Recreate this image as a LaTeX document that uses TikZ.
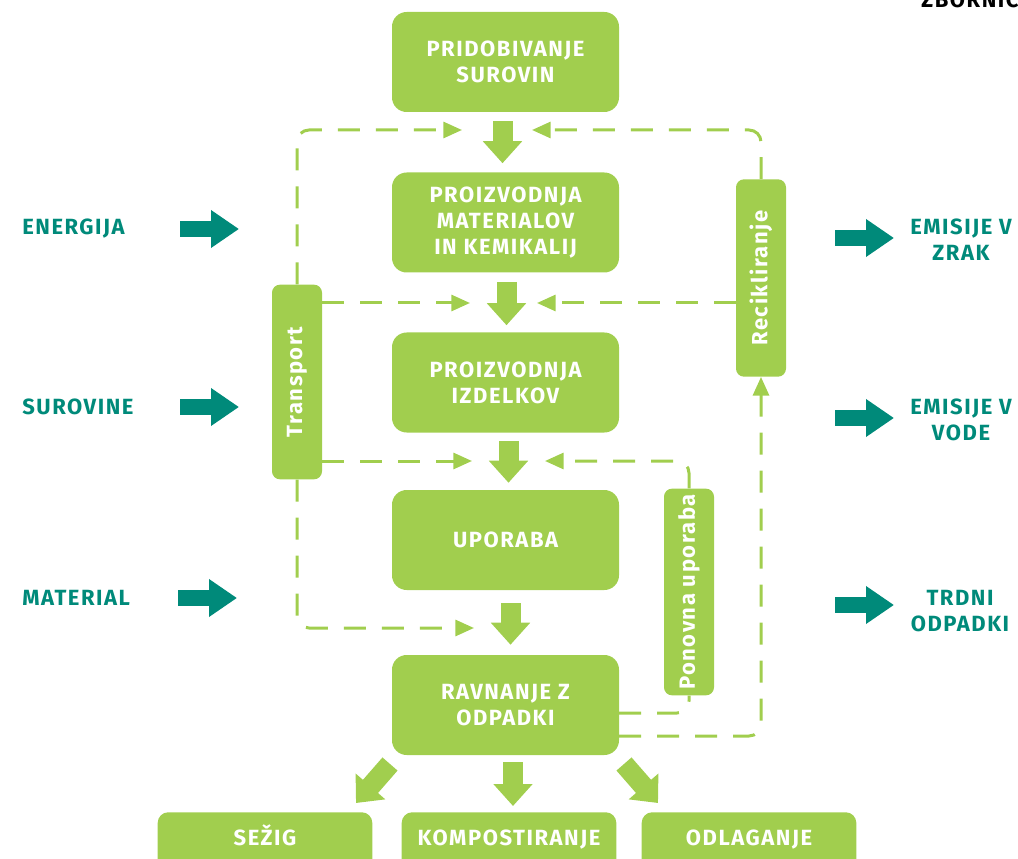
\documentclass[tikz,border=0pt]{standalone}
\usepackage{fontspec}
\setmainfont{Fira Sans}
\newfontfamily\dfont[LetterSpace=7]{Fira Sans}
\usetikzlibrary{arrows.meta,calc}
\definecolor{lgreen}{RGB}{161,206,78}
\definecolor{tealc}{RGB}{0,138,122}
\begin{document}
\begin{tikzpicture}[x=0.75pt,y=-0.75pt,
  txt/.style={font=\dfont\bfseries\fontsize{16.5}{19.5}\selectfont},
  box/.style={txt,fill=lgreen,rounded corners=11pt,minimum width=170.25pt,minimum height=75pt,text=white,align=center,inner sep=0pt},
  bbox/.style={txt,fill=lgreen,rounded corners=8pt,minimum width=161pt,text height=25pt,text depth=30pt,inner ysep=0pt,inner xsep=0pt,text=white,anchor=north},
  sbox/.style={txt,fill=lgreen,rounded corners=6pt,rotate=90,minimum height=37.5pt,text=white,inner sep=0pt},
  side/.style={txt,text=tealc,align=center,inner sep=0pt},
  barrow/.style={draw=lgreen,line width=15pt,-{Triangle[length=16.5pt,width=28.5pt]}},
  tarrow/.style={draw=tealc,line width=12pt,-{Triangle[length=21pt,width=27pt]}},
  dline/.style={draw=lgreen,line width=2.25pt,dash pattern=on 16.5pt off 12pt,rounded corners=9pt},
  dtip/.style={-{Triangle[length=14pt,width=12pt]}}]
\useasboundingbox (0,0) rectangle (1018,859);

% main boxes
\node[box] (b1) at (505.5,62) {PRIDOBIVANJE\\SUROVIN};
\node[box] (b2) at (505.5,222.5) {PROIZVODNJA\\MATERIALOV\\IN KEMIKALIJ};
\node[box] (b3) at (505.5,382.5) {PROIZVODNJA\\IZDELKOV};
\node[box] (b4) at (505.5,540) {UPORABA};
\node[box] (b5) at (505.5,705) {RAVNANJE Z\\ODPADKI};

% bottom boxes
\node[bbox] (s1) at (265,812) {SEŽIG};
\node[bbox] (s2) at (509,812) {KOMPOSTIRANJE};
\node[bbox] (s3) at (749,812) {ODLAGANJE};

% side boxes
\node[sbox,minimum width=146pt] (tr) at (297,382) {Transport};
\node[sbox,minimum width=148pt] (re) at (761,278) {Recikliranje};
\node[sbox,minimum width=155pt] (po) at (689,592) {Ponovna uporaba};

% block arrows
\draw[barrow] ($(b1.south)+(-3,9)$) -- ($(b2.north)+(-3,-9)$);
\draw[barrow] ($(b2.south)+(1,9)$) -- ($(b3.north)+(1,-7)$);
\draw[barrow] ($(b3.south)+(3,8)$) -- ($(b4.north)+(3,-7)$);
\draw[barrow] ($(b4.south)+(5,13)$) -- ($(b5.north)+(5,-10)$);
\coordinate (m0) at (513,762); \coordinate (m1) at (513,806);
\coordinate (l0) at (390,764); \coordinate (l1) at (356,803);
\coordinate (r0) at (624,764); \coordinate (r1) at (658,803);
\draw[barrow] (m0) -- (m1);
\draw[barrow] (l0) -- (l1);
\draw[barrow] (r0) -- (r1);

% teal arrows and labels
\node[side,anchor=west] (en) at (22,229) {ENERGIJA};
\node[side,anchor=west] (su) at (22,407) {SUROVINE};
\node[side,anchor=west] (ma) at (22,598) {MATERIAL};
\coordinate (en1) at (180,229); \coordinate (en2) at (239,229);
\coordinate (su1) at (180,407); \coordinate (su2) at (239,407);
\coordinate (ma1) at (178,598); \coordinate (ma2) at (237,598);
\draw[tarrow] (en1) -- (en2);
\draw[tarrow] (su1) -- (su2);
\draw[tarrow] (ma1) -- (ma2);

\node[side] (ez) at (961,240) {EMISIJE V\\ZRAK};
\node[side] (ev) at (961,420) {EMISIJE V\\VODE};
\node[side] (tp) at (960,611) {TRDNI\\ODPADKI};
\coordinate (ez1) at (835,238); \coordinate (ez2) at (894,238);
\coordinate (ev1) at (835,418); \coordinate (ev2) at (894,418);
\coordinate (tp1) at (835,605); \coordinate (tp2) at (894,605);
\draw[tarrow] (ez1) -- (ez2);
\draw[tarrow] (ev1) -- (ev2);
\draw[tarrow] (tp1) -- (tp2);

\node[txt,anchor=base west,inner sep=0pt] (zb) at (921,8) {ZBORNIC};

% dashed connectors
\coordinate (t1) at (462,130);
\coordinate (t2) at (470,303);
\coordinate (t3) at (472,461);
\coordinate (t4) at (474,628);
\coordinate (r1) at (532,130);
\coordinate (r2) at (537,303);
\coordinate (r3) at (545,461);
\draw[dline,dtip] (tr.east) |- (t1);
\draw[dline,dtip] (tr.south |- t2) -- (t2);
\draw[dline,dtip] (tr.south |- t3) -- (t3);
\draw[dline,dtip] (tr.west) |- (t4);
\draw[dline,dtip] (re.east) |- (r1);
\draw[dline,dtip] (re.north |- r2) -- (r2);
\draw[dline,dtip] (po.east) |- (r3);
\coordinate (p1) at (619,713);
\coordinate (p2) at (619,736);
\draw[dline] (p1) -| (po.west);
\draw[dline,dtip] (p2) -| (re.west);
\end{tikzpicture}
\end{document}
